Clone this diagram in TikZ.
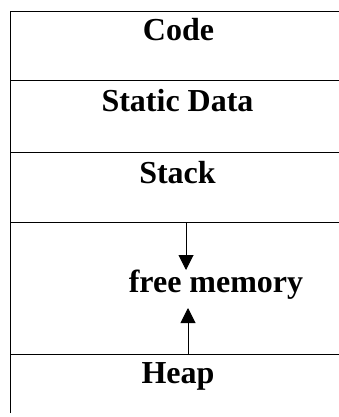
\documentclass[tikz,border=0pt]{standalone}
\usepackage{fontspec}
\setmainfont{Liberation Serif}
\usetikzlibrary{arrows.meta}
\tikzset{
  seg/.style={line width=1pt, black},
  lbl/.style={anchor=base, inner sep=0pt, font=\fontsize{32}{38}\selectfont\bfseries},
  growarrow/.style={line width=1pt, -{Triangle[length=15pt,width=15pt]}}
}
\begin{document}
\begin{tikzpicture}[x=1pt,y=-1pt]
\useasboundingbox (0,0) rectangle (339,417);
% frame lines
\draw[seg] (10.7,413) -- (10.7,11.5) -- (339,11.5);
\draw[seg] (10.7,81) -- (339,81);
\draw[seg] (10.7,152) -- (339,152);
\draw[seg] (10.7,222) -- (339,222);
\draw[seg] (10.7,354) -- (339,354);
% labels
\node[lbl] (code) at (178.5,41) {Code};
\node[lbl] (static) at (177.5,112) {Static Data};
\node[lbl] (stack) at (177.5,183) {Stack};
\node[lbl] (free) at (216,292) {free memory};
\node[lbl] (heap) at (178,383) {Heap};
% arrows
\coordinate (stacktop) at (186,222);
\coordinate (stacktip) at (186,270);
\coordinate (heaptop) at (188,354);
\coordinate (heaptip) at (188,308);
\draw[growarrow] (stacktop) -- (stacktip);
\draw[growarrow] (heaptop) -- (heaptip);
\end{tikzpicture}
\end{document}
